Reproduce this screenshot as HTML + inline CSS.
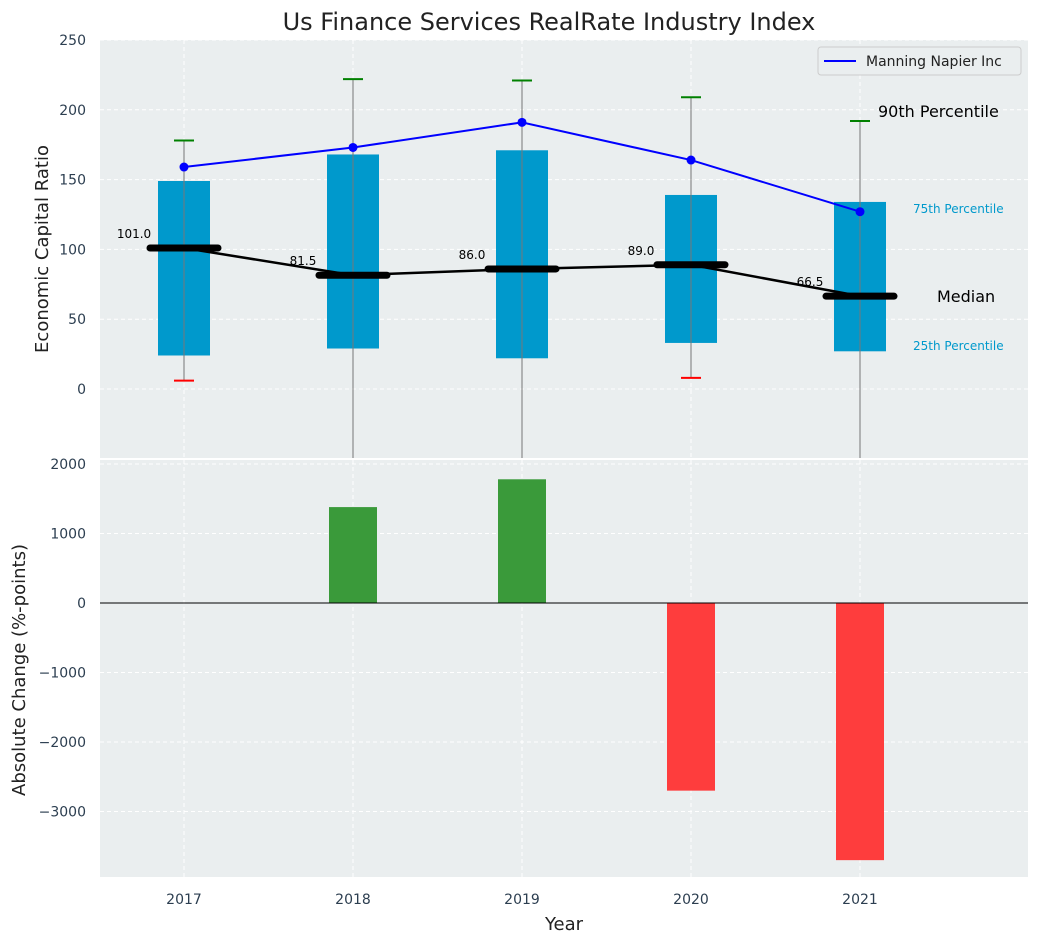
<!DOCTYPE html>
<html><head><meta charset="utf-8"><style>
body{margin:0;background:#fff;font-family:"Liberation Sans","DejaVu Sans",sans-serif}
text{font-family:"DejaVu Sans","Liberation Sans",sans-serif}
</style></head><body>
<svg id="c" width="1039" height="942" xmlns="http://www.w3.org/2000/svg"></svg>
<script>
const years=[2017,2018,2019,2020,2021];
const q25=[24,29,22,33,27];
const q75=[149,168,171,139,134];
const p90=[178,222,221,209,192];
const p10=[6,-80,-80,8,-80];
const medians=[101,81.5,86,89,66.5];
const company=[159,173,191,164,127];
const changes=[0,1380,1780,-2700,-3700];
const topTicks=[0,50,100,150,200,250];
const botTicks=[-3000,-2000,-1000,0,1000,2000];
const NS='http://www.w3.org/2000/svg';
const svg=document.getElementById('c');
function el(t,a,txt){const e=document.createElementNS(NS,t);for(const k in a)e.setAttribute(k,a[k]);if(txt!==undefined)e.textContent=txt;svg.appendChild(e);return e;}
const X=v=>184+(v-2017)*169;
const Y1=v=>389-v*349/250;
const Y2=v=>603-v*0.0695;
const L=100,R=1028;
let e;
e=el('rect',{x:L,y:40,width:R-L,height:418,fill:'#eaeeef'});

e=el('rect',{x:L,y:460,width:R-L,height:417,fill:'#eaeeef'});

// grids
topTicks.forEach(t=>{const y=Y1(t);
 e=el('line',{x1:L,x2:R,y1:y,y2:y,stroke:'#fff','stroke-dasharray':'4,3'});
 
 e=el('text',{x:86,y:y+5,'text-anchor':'end','font-size':14,fill:'#2c3e50'},t);
 });
botTicks.forEach(t=>{const y=Y2(t);
 e=el('line',{x1:L,x2:R,y1:y,y2:y,stroke:'#fff','stroke-dasharray':'4,3'});
 
 e=el('text',{x:86,y:y+5,'text-anchor':'end','font-size':14,fill:'#2c3e50'},String(t).replace('-','−'));
 });
years.forEach(yr=>{const x=X(yr);
 e=el('line',{x1:x,x2:x,y1:40,y2:458,stroke:'#fff','stroke-dasharray':'4,3'});
 
 e=el('line',{x1:x,x2:x,y1:460,y2:877,stroke:'#fff','stroke-dasharray':'4,3'});
 
 e=el('text',{x:x,y:904,'text-anchor':'middle','font-size':14,fill:'#2c3e50'},yr);
 });
// boxes
years.forEach((yr,i)=>{const x=X(yr);
 e=el('rect',{x:x-26,y:Y1(q75[i]),width:52,height:Y1(q25[i])-Y1(q75[i]),fill:'#0099cc'});
 
 e=el('line',{x1:x,x2:x,y1:Y1(p90[i]),y2:Math.min(458,Y1(p10[i])),stroke:'#777','stroke-width':1});
 
 e=el('line',{x1:x-10,x2:x+10,y1:Y1(p90[i]),y2:Y1(p90[i]),stroke:'green','stroke-width':2});
 
 if(Y1(p10[i])<458){e=el('line',{x1:x-10,x2:x+10,y1:Y1(p10[i]),y2:Y1(p10[i]),stroke:'red','stroke-width':2});
 }
});
// median line
e=el('polyline',{points:years.map((yr,i)=>X(yr)+','+Y1(medians[i])).join(' '),fill:'none',stroke:'#000','stroke-width':2.5});

years.forEach((yr,i)=>{const x=X(yr),y=Y1(medians[i]);
 e=el('line',{x1:x-34,x2:x+34,y1:y,y2:y,stroke:'#000','stroke-width':7,'stroke-linecap':'round'});
 
 e=el('text',{x:x-50,y:y-10,'text-anchor':'middle','font-size':12,fill:'#000'},medians[i].toFixed(1));
 });
// company line
e=el('polyline',{points:years.map((yr,i)=>X(yr)+','+Y1(company[i])).join(' '),fill:'none',stroke:'blue','stroke-width':2});

years.forEach((yr,i)=>{e=el('circle',{cx:X(yr),cy:Y1(company[i]),r:4.5,fill:'blue'});
 });
// annotations
[['90th Percentile',878,117,16,'#000'],['75th Percentile',913,213,12,'#0099cc'],['Median',937,302,16,'#000'],['25th Percentile',913,350,12,'#0099cc']].forEach(a=>{
 e=el('text',{x:a[1],y:a[2],'font-size':a[3],fill:a[4]},a[0]);
 });
// bars
years.forEach((yr,i)=>{if(!changes[i])return;const y0=Y2(0),y=Y2(changes[i]);
 e=el('rect',{x:X(yr)-24,y:Math.min(y0,y),width:48,height:Math.abs(y-y0),fill:changes[i]>0?'#3a9a3a':'#fe3d3d'});
 });
e=el('line',{x1:L,x2:R,y1:Y2(0),y2:Y2(0),stroke:'#000','stroke-width':1});

// legend
e=el('rect',{x:818,y:47,width:203,height:28,fill:'#eaeeef',stroke:'#ccc',rx:3});

e=el('line',{x1:824,x2:856,y1:61,y2:61,stroke:'blue','stroke-width':2});

e=el('text',{x:866,y:66,'font-size':14,fill:'#222'},'Manning Napier Inc');

// titles
e=el('text',{x:549,y:30,'text-anchor':'middle','font-size':24,fill:'#222'},'Us Finance Services RealRate Industry Index');

e=el('text',{x:564,y:930,'text-anchor':'middle','font-size':18,fill:'#222'},'Year');

e=el('text',{x:0,y:0,'text-anchor':'middle','font-size':18,fill:'#222',transform:'translate(48,249) rotate(-90)'},'Economic Capital Ratio');

e=el('text',{x:0,y:0,'text-anchor':'middle','font-size':18,fill:'#222',transform:'translate(25,670) rotate(-90)'},'Absolute Change (%-points)');

</script>
</body></html>
